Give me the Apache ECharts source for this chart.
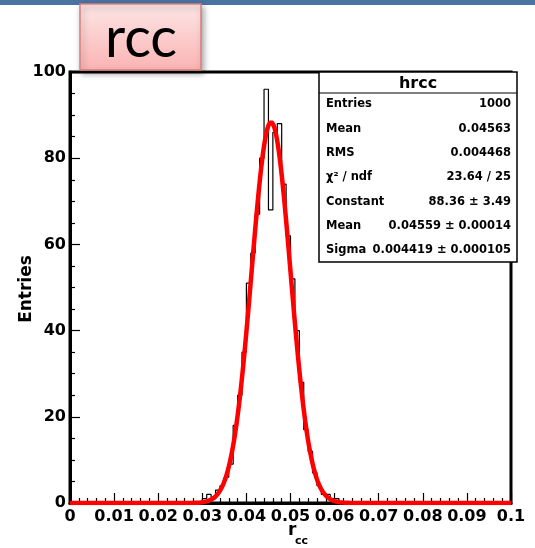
<!DOCTYPE html>
<html>
<head>
<meta charset="utf-8">
<script src="https://cdn.jsdelivr.net/npm/echarts@6/dist/echarts.min.js"></script>
<style>
  html, body { margin: 0; padding: 0; background: #ffffff; }
  #chart { width: 535px; height: 548px; }
</style>
</head>
<body>
<div id="chart"></div>
<script>
// Histogram hrcc: 100 bins of width 0.001 on [0, 0.1]; only the filled bins are listed.
const xMin = 0;
const xMax = 0.1;
const binWidth = 0.001;
const nBins = 100;
const firstFilledBin = 30;            // bin [0.030, 0.031)
const counts = [1, 2, 1, 3, 4, 6, 9, 18, 25, 35, 51, 58, 67, 80, 96, 68, 86, 88,
                74, 62, 52, 40, 28, 17, 12, 7, 4, 2, 2, 1, 1];

// Axis tick labels
const xTickLabels = ['0', '0.01', '0.02', '0.03', '0.04', '0.05', '0.06', '0.07', '0.08', '0.09', '0.1'];
const yTickLabels = ['0', '20', '40', '60', '80', '100'];

// Gaussian fit result
const fitConstant = 88.36;
const fitMean = 0.04559;
const fitSigma = 0.004419;

// Statistics box
const statTitle = 'hrcc';
const statNames = ['Entries', 'Mean', 'RMS', 'χ² / ndf', 'Constant', 'Mean', 'Sigma'];
const statValues = ['1000', '0.04563', '0.004468', '23.64 / 25', '88.36 ± 3.49', '0.04559 ± 0.00014', '0.004419 ± 0.000105'];

// ---- build series data ----
const binContent = [];
for (let i = 0; i < nBins; i++) {
  const j = i - firstFilledBin;
  binContent.push(j >= 0 && j < counts.length ? counts[j] : 0);
}
// step outline: one point on each bin's low edge, plus the upper edge of the last bin
const histOutline = binContent.map((v, i) => [xMin + i * binWidth, v]);
histOutline.push([xMax, binContent[nBins - 1]]);

// fit function sampled across the axis range
const fitCurve = [];
const nSamples = 600;
for (let i = 0; i <= nSamples; i++) {
  const x = xMin + (xMax - xMin) * i / nSamples;
  const z = (x - fitMean) / fitSigma;
  fitCurve.push([x, fitConstant * Math.exp(-0.5 * z * z)]);
}

const labelFont = '"DejaVu Sans", "Liberation Sans", Arial, sans-serif';

// ---- statistics box graphic ----
const boxX = 319, boxY = 72, boxW = 198, boxH = 190, headH = 21, rowStep = 24.3;
const statChildren = [
  { type: 'rect', shape: { x: 0, y: 0, width: boxW, height: boxH },
    style: { fill: '#ffffff', stroke: '#000000', lineWidth: 1.5 } },
  { type: 'line', shape: { x1: 0, y1: headH, x2: boxW, y2: headH },
    style: { stroke: '#000000', lineWidth: 1.2 } },
  { type: 'text', x: boxW / 2, y: headH / 2 + 1,
    style: { text: statTitle, align: 'center', verticalAlign: 'middle',
             font: 'bold 16px ' + labelFont, fill: '#000000' } }
];
statNames.forEach((name, i) => {
  const y = headH + 11.5 + i * rowStep;
  statChildren.push({ type: 'text', x: 7, y: y,
    style: { text: name, align: 'left', verticalAlign: 'middle',
             font: 'bold 11.5px ' + labelFont, fill: '#000000' } });
  statChildren.push({ type: 'text', x: boxW - 6, y: y,
    style: { text: statValues[i], align: 'right', verticalAlign: 'middle',
             font: 'bold 11.5px ' + labelFont, fill: '#000000' } });
});

const chart = echarts.init(document.getElementById('chart'), null, { renderer: 'canvas' });

chart.setOption({
  backgroundColor: '#ffffff',
  animation: false,
  grid: {
    left: 70, top: 72, right: 24, bottom: 45,
    show: true, borderColor: '#000000', borderWidth: 3,
    outerBoundsMode: 'none'
  },
  xAxis: {
    type: 'value',
    min: xMin, max: xMax, interval: 0.01,
    axisLine: { show: true, onZero: false, lineStyle: { color: '#000000', width: 3 } },
    axisTick: { show: true, inside: true, length: 10, lineStyle: { color: '#000000', width: 1.2 } },
    minorTick: { show: true, splitNumber: 5, length: 5, lineStyle: { color: '#000000', width: 1.2 } },
    splitLine: { show: false },
    axisLabel: {
      margin: 6, color: '#000000', fontWeight: 'bold', fontSize: 16, fontFamily: labelFont,
      formatter: v => xTickLabels[Math.round(v / 0.01)]
    }
  },
  yAxis: {
    type: 'value',
    min: 0, max: 100, interval: 20,
    axisLine: { show: true, onZero: false, lineStyle: { color: '#000000', width: 3 } },
    axisTick: { show: true, inside: true, length: 10, lineStyle: { color: '#000000', width: 1.2 } },
    minorTick: { show: true, splitNumber: 4, length: 5, lineStyle: { color: '#000000', width: 1.2 } },
    splitLine: { show: false },
    axisLabel: {
      margin: 4, color: '#000000', fontWeight: 'bold', fontSize: 16, fontFamily: labelFont,
      formatter: v => yTickLabels[Math.round(v / 20)]
    }
  },
  series: [
    {
      name: 'hrcc', type: 'line', step: 'end',
      data: histOutline, showSymbol: false, symbol: 'none',
      lineStyle: { color: '#000000', width: 1.2 }, z: 3
    },
    {
      name: 'gaus', type: 'line', smooth: false,
      data: fitCurve, showSymbol: false, symbol: 'none',
      lineStyle: { color: '#ff0000', width: 4.5, join: 'round' }, z: 4
    }
  ],
  graphic: [
    // slide banner along the top
    { type: 'rect', shape: { x: 0, y: 0, width: 535, height: 5 },
      style: { fill: '#4a72a3' }, z: 100 },
    // axis titles
    { type: 'text', x: 27, y: 289, rotation: Math.PI / 2,
      style: { text: 'Entries', align: 'center', verticalAlign: 'middle',
               font: 'bold 17px ' + labelFont, fill: '#000000' }, z: 100 },
    { type: 'text', x: 288, y: 531,
      style: { text: 'r', align: 'left', verticalAlign: 'middle',
               font: 'bold 17px ' + labelFont, fill: '#000000' }, z: 100 },
    { type: 'text', x: 295, y: 541,
      style: { text: 'cc', align: 'left', verticalAlign: 'middle',
               font: 'bold 11px ' + labelFont, fill: '#000000' }, z: 100 },
    // statistics box
    { type: 'group', x: boxX, y: boxY, children: statChildren, z: 100 },
    // title tag
    { type: 'rect', shape: { x: 80, y: 4, width: 121, height: 66 },
      style: {
        fill: new echarts.graphic.LinearGradient(0, 0, 0, 1, [
          { offset: 0, color: '#fde6e6' }, { offset: 1, color: '#fbb3b3' }
        ]),
        stroke: '#d77f7f', lineWidth: 1.5,
        shadowBlur: 6, shadowOffsetX: 2, shadowOffsetY: 3, shadowColor: 'rgba(0,0,0,0.35)'
      }, z: 110 },
    { type: 'text', x: 141, y: 39,
      style: { text: 'rcc', align: 'center', verticalAlign: 'middle',
               font: '56px Lato, "Open Sans", sans-serif', fill: '#000000' }, z: 111 }
  ]
});
</script>
</body>
</html>
